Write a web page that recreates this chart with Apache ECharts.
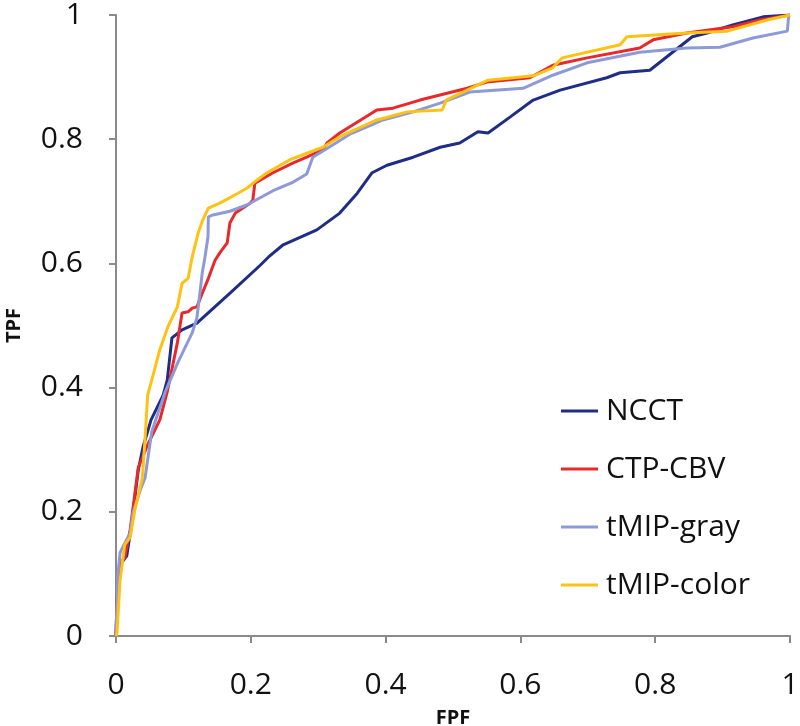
<!DOCTYPE html>
<html>
<head>
<meta charset="utf-8">
<script src="https://cdn.jsdelivr.net/npm/echarts@6/dist/echarts.min.js"></script>
<style>html,body{margin:0;padding:0;background:#fff}#c{width:800px;height:726px}</style>
</head>
<body>
<div id="c"></div>
<script>
const seriesNames = ['NCCT', 'CTP-CBV', 'tMIP-gray', 'tMIP-color'];
const xTicks = [0, 0.2, 0.4, 0.6, 0.8, 1];
const yTicks = [0, 0.2, 0.4, 0.6, 0.8, 1];

const ncct = [
  [0,0],[0.0015,0.058],[0.004,0.098],[0.009,0.119],[0.016,0.129],[0.024,0.187],
  [0.033,0.267],[0.040,0.304],[0.052,0.348],[0.070,0.388],[0.076,0.412],[0.083,0.480],
  [0.098,0.493],[0.120,0.504],[0.170,0.553],[0.214,0.597],[0.226,0.610],[0.248,0.630],
  [0.298,0.654],[0.332,0.681],[0.358,0.713],[0.380,0.746],[0.402,0.758],[0.441,0.771],
  [0.481,0.787],[0.510,0.794],[0.537,0.812],[0.552,0.810],[0.585,0.836],[0.619,0.863],
  [0.659,0.879],[0.728,0.899],[0.748,0.907],[0.792,0.911],[0.855,0.965],[0.877,0.971],
  [0.915,0.984],[0.960,0.997],[1,1]
];

const ctpCbv = [
  [0,0],[0.0015,0.058],[0.0045,0.106],[0.009,0.122],[0.013,0.126],[0.021,0.171],
  [0.031,0.254],[0.033,0.271],[0.047,0.308],[0.065,0.348],[0.076,0.393],[0.091,0.472],
  [0.098,0.520],[0.107,0.522],[0.113,0.528],[0.120,0.530],[0.128,0.552],[0.136,0.573],
  [0.147,0.605],[0.154,0.617],[0.165,0.633],[0.169,0.665],[0.177,0.681],[0.199,0.697],
  [0.203,0.702],[0.206,0.729],[0.233,0.746],[0.263,0.762],[0.283,0.771],[0.307,0.783],
  [0.313,0.794],[0.332,0.810],[0.387,0.847],[0.411,0.850],[0.451,0.863],[0.521,0.882],
  [0.550,0.892],[0.614,0.899],[0.648,0.919],[0.699,0.931],[0.777,0.947],[0.797,0.960],
  [0.847,0.971],[0.915,0.981],[0.955,0.992],[1,1]
];

const tmipGray = [
  [0,0],[0.0015,0.058],[0.003,0.101],[0.006,0.134],[0.010,0.143],[0.021,0.166],
  [0.025,0.198],[0.036,0.235],[0.043,0.254],[0.053,0.329],[0.073,0.393],[0.092,0.441],
  [0.113,0.488],[0.120,0.512],[0.125,0.557],[0.128,0.585],[0.132,0.610],[0.1365,0.643],
  [0.137,0.675],[0.144,0.678],[0.169,0.684],[0.194,0.694],[0.233,0.717],[0.263,0.731],
  [0.283,0.744],[0.292,0.771],[0.322,0.791],[0.347,0.808],[0.381,0.824],[0.396,0.831],
  [0.441,0.844],[0.481,0.858],[0.525,0.876],[0.604,0.882],[0.648,0.903],[0.699,0.923],
  [0.777,0.940],[0.847,0.947],[0.896,0.948],[0.945,0.963],[0.996,0.974],[0.998,0.998]
];

const tmipColor = [
  [0,0],[0.0015,0.005],[0.006,0.090],[0.013,0.147],[0.021,0.159],[0.028,0.203],
  [0.039,0.254],[0.043,0.316],[0.047,0.388],[0.058,0.432],[0.065,0.461],[0.077,0.498],
  [0.091,0.530],[0.098,0.568],[0.107,0.576],[0.113,0.610],[0.122,0.649],[0.128,0.668],
  [0.137,0.689],[0.154,0.697],[0.181,0.713],[0.194,0.721],[0.209,0.734],[0.224,0.746],
  [0.258,0.767],[0.307,0.787],[0.332,0.804],[0.387,0.831],[0.432,0.844],[0.484,0.847],
  [0.490,0.863],[0.552,0.895],[0.619,0.902],[0.648,0.915],[0.662,0.931],[0.748,0.952],
  [0.758,0.965],[0.847,0.971],[0.907,0.974],[0.966,0.992],[1,1]
];

const colors = ['#1f2d86', '#e8282b', '#8d99d8', '#fdc214'];
const seriesData = [ncct, ctpCbv, tmipGray, tmipColor];

const chart = echarts.init(document.getElementById('c'));
const axisCommon = {
  type: 'value', min: 0, max: 1, interval: 0.2,
  axisLine: { show: true, lineStyle: { color: '#8a8a8a', width: 2 } },
  axisTick: { show: true, length: 7, lineStyle: { color: '#8a8a8a', width: 2 } },
  splitLine: { show: false },
  nameTextStyle: { fontFamily: 'Open Sans', fontWeight: 'bold', fontSize: 20, color: '#111' },
  axisLabel: { fontFamily: 'Open Sans', fontSize: 30, color: '#111' }
};
chart.setOption({
  animation: false,
  backgroundColor: '#fff',
  grid: { left: 116, right: 10, top: 15, bottom: 90, containLabel: false, outerBoundsMode: 'none' },
  xAxis: Object.assign({}, axisCommon, {
    name: 'FPF', nameLocation: 'middle', nameGap: 72,
    axisLabel: Object.assign({}, axisCommon.axisLabel, { margin: 34,
      formatter: v => xTicks.includes(+v.toFixed(1)) ? String(+v.toFixed(1)) : '' })
  }),
  yAxis: Object.assign({}, axisCommon, {
    name: 'TPF', nameLocation: 'middle', nameGap: 92,
    axisLabel: Object.assign({}, axisCommon.axisLabel, { margin: 33,
      formatter: v => yTicks.includes(+v.toFixed(1)) ? String(+v.toFixed(1)) : '' })
  }),
  legend: {
    orient: 'vertical', left: 556, top: 391, itemGap: 28,
    itemWidth: 37, itemHeight: 3, icon: 'rect',
    data: seriesNames,
    textStyle: { fontFamily: 'Open Sans', fontSize: 30, color: '#111', lineHeight: 30, padding: [0, 0, 0, 3] }
  },
  series: seriesNames.map((n, i) => ({
    name: n, type: 'line', data: seriesData[i], symbol: 'none',
    lineStyle: { color: colors[i], width: 3 }, itemStyle: { color: colors[i] },
    z: 2 + i
  }))
});
</script>
</body>
</html>
